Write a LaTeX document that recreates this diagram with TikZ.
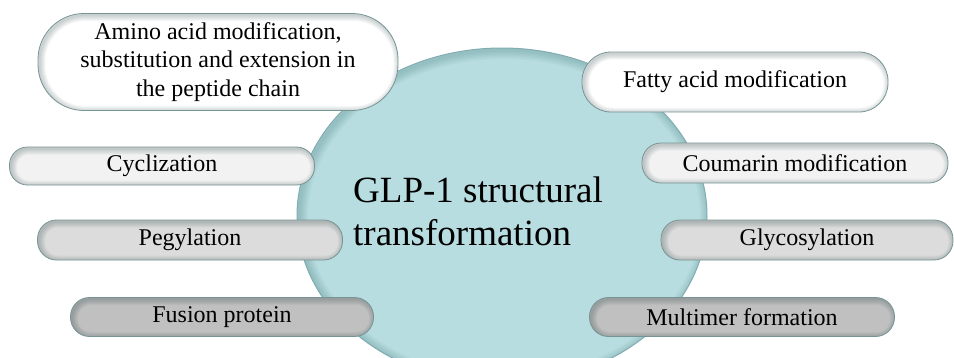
\documentclass[tikz,border=0pt]{standalone}
\usepackage{fontspec}
\setmainfont{Liberation Serif}
\usepackage{xcolor}
\usetikzlibrary{
shapes.geometric,
backgrounds
}
\definecolor{circfill}{RGB}{184,221,224}
\definecolor{circedge}{RGB}{128,172,178}
\definecolor{pilledge}{RGB}{118,148,148}
\definecolor{pillwhite}{RGB}{255,255,255}
\definecolor{pilllight}{RGB}{242,242,242}
\definecolor{pillmid}{RGB}{220,220,220}
\definecolor{pilldark}{RGB}{192,192,192}

\begin{document}
\begin{tikzpicture}[
    x=1pt, y=-1pt,
    %pill = rounded box, #1 = corner radius
    pill/.style={draw=pilledge, line width=0.8pt, inner sep=0pt, align=center,
      font=\fontsize{24}{28.5}\selectfont, rounded corners=#1,
      path picture={
        \foreach \w in {2,4,...,12}
          \draw[pillshade, line width=\w pt, rounded corners=#1]
            ([shift={(1.5pt,-1.5pt)}]path picture bounding box.south west) rectangle
            ([shift={(1.5pt,-1.5pt)}]path picture bounding box.north east);
      }},
    pill/.default=19pt,
    pillshade/.style={draw=black!75!teal, opacity=0.035},
    glpshade/.style={draw=teal!50!black, opacity=0.03},
    big/.style={font=\fontsize{37}{43}\selectfont, align=left, inner sep=0pt}
  ]
  \useasboundingbox (0,0) rectangle (954,357);
  \clip (0,0) rectangle (954,357);

  % centre
  \node[ellipse, draw=circedge, line width=1pt, fill=circfill, inner sep=0pt,
    minimum width=410pt, minimum height=336pt,
    path picture={
      \foreach \w in {3,6,...,18}
        \draw[glpshade, line width=\w pt]
          ([shift={(2pt,-2pt)}]path picture bounding box.center) ellipse [x radius=205, y radius=168];
    }] (GLP) at (502,216) {};
  \node[big, anchor=west] (GLPtext) at (353,211) {GLP-1 structural\\transformation};

  % left side
  \node[pill=46pt, fill=pillwhite, minimum width=360pt, minimum height=97pt] (Amino) at (218,62)
    {Amino acid modification,\\substitution and extension in\\the peptide chain};
  \node[pill=18pt, fill=pilllight, minimum width=305pt, minimum height=38pt] (Cyc) at (162,166) {Cyclization};
  \node[pill, fill=pillmid, minimum width=305pt, minimum height=40pt] (Peg) at (190,240) {Pegylation};
  \node[pill, fill=pilldark, minimum width=303pt, minimum height=39pt] (Fus) at (222,317) {Fusion protein};

  % right side
  \node[pill=29pt, fill=pillwhite, minimum width=306pt, minimum height=60pt] (Fatty) at (735,82) {Fatty acid modification};
  \node[pill, fill=pilllight, minimum width=306pt, minimum height=40pt] (Cou) at (795,163) {Coumarin modification};
  \node[pill, fill=pillmid, minimum width=292pt, minimum height=40pt] (Gly) at (807,240) {Glycosylation};
  \node[pill, fill=pilldark, minimum width=305pt, minimum height=39pt] (Mul) at (742,317) {Multimer formation};
\end{tikzpicture}
\end{document}
